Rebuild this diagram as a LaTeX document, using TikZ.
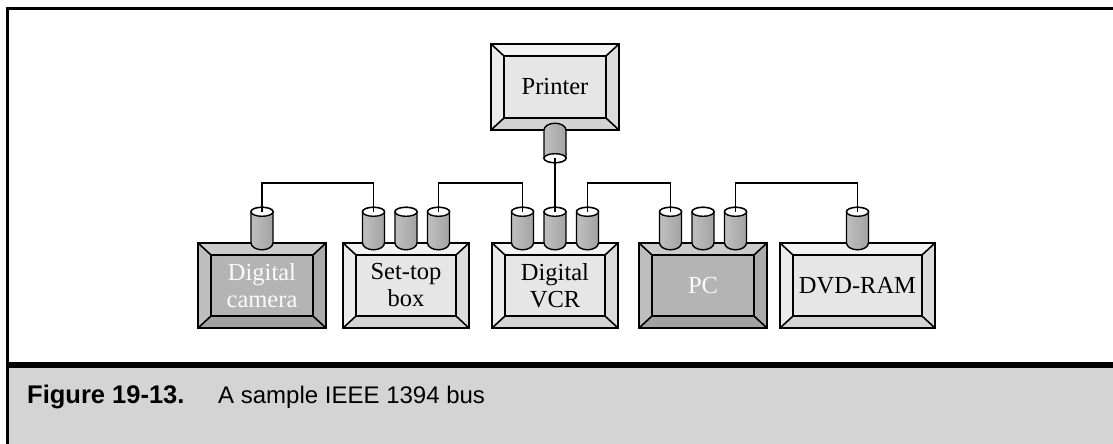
\documentclass[tikz,border=0pt]{standalone}
\usepackage{fontspec}
\newfontfamily\capfont{Liberation Sans}
\newfontfamily\devfont{Liberation Serif}
\usepackage{xcolor}
\usepackage{tikz}

\definecolor{lighttop}{HTML}{F3F3F3}
\definecolor{lightleft}{HTML}{EBEBEB}
\definecolor{lightright}{HTML}{DCDCDC}
\definecolor{lightbottom}{HTML}{D3D3D3}
\definecolor{lightface}{HTML}{E6E6E6}
\definecolor{darktop}{HTML}{CBCBCB}
\definecolor{darkleft}{HTML}{BEBEBE}
\definecolor{darkright}{HTML}{ABABAB}
\definecolor{darkbottom}{HTML}{A2A2A2}
\definecolor{darkface}{HTML}{B4B4B4}
\definecolor{capgray}{HTML}{D4D4D4}

% bevelled frame round a device node: #1 node, #2 colour set (light/dark)
\newcommand{\bevel}[2]{%
  \fill[#2top] (#1.north west) -- (#1.north east) -- ([shift={(-13,-12)}]#1.north east) -- ([shift={(13,-12)}]#1.north west) -- cycle;
  \fill[#2left] (#1.north west) -- ([shift={(13,-12)}]#1.north west) -- ([shift={(13,12)}]#1.south west) -- (#1.south west) -- cycle;
  \fill[#2right] (#1.north east) -- ([shift={(-13,-12)}]#1.north east) -- ([shift={(-13,12)}]#1.south east) -- (#1.south east) -- cycle;
  \fill[#2bottom] (#1.south west) -- ([shift={(13,12)}]#1.south west) -- ([shift={(-13,12)}]#1.south east) -- (#1.south east) -- cycle;
  \draw[rim] (#1.north west) -- ([shift={(13,-12)}]#1.north west);
  \draw[rim] (#1.north east) -- ([shift={(-13,-12)}]#1.north east);
  \draw[rim] (#1.south west) -- ([shift={(13,12)}]#1.south west);
  \draw[rim] (#1.south east) -- ([shift={(-13,12)}]#1.south east);
  \draw[rim] ([shift={(13,-12)}]#1.north west) rectangle ([shift={(-13,12)}]#1.south east);
  \draw[rim] (#1.north west) rectangle (#1.south east);
}

\tikzset{
  plug/.style={draw, line width=1.4pt},
  plugshade/.style={left color=gray!50, middle color=gray!4, right color=gray!72},
  port/.pic={
    \shadedraw[plug, plugshade] (-11,31) -- (-11,0) arc[start angle=180, end angle=360, x radius=11pt, y radius=7pt] -- (11,31) arc[start angle=0, end angle=180, x radius=11pt, y radius=4.5pt] -- cycle;
    \filldraw[plug, fill=white] (0,31) ellipse[x radius=11pt, y radius=4.5pt];
    \coordinate (-top) at (0,31);
  },
  portdown/.pic={
    \shadedraw[plug, plugshade] (-11,-28) -- (-11,0) arc[start angle=180, end angle=0, x radius=11pt, y radius=7pt] -- (11,-28) arc[start angle=360, end angle=180, x radius=11pt, y radius=4.5pt] -- cycle;
    \filldraw[plug, fill=white] (0,-28) ellipse[x radius=11pt, y radius=4.5pt];
    \coordinate (-end) at (0,-28);
  },
}

\begin{document}
\begin{tikzpicture}[x=1pt, y=1pt,
    device/.style={inner sep=0pt, align=center, minimum height=85pt, font=\devfont\fontsize{24.5pt}{27pt}\selectfont},
    light/.style={device, fill=lightface, text=black},
    dark/.style={device, fill=darkface, text=white!97!gray},
    rim/.style={line width=1.6pt, line join=miter},
    wire/.style={line width=1.6pt},
    capbold/.style={anchor=base west, inner sep=0pt, font=\capfont\bfseries\fontsize{25.5pt}{30pt}\selectfont},
    captext/.style={anchor=base west, inner sep=0pt, font=\capfont\fontsize{24pt}{28pt}\selectfont}]
  \useasboundingbox (0,0) rectangle (1113,-444);

  % frame and caption strip
  \fill[capgray] (7.5,-365) rectangle (1113,-444);
  \draw[line width=6pt] (7.5,-365) -- (1113,-365);
  \draw[line width=2.5pt] (1113,-8.5) -- (7.5,-8.5) -- (7.5,-444);
  \node[capbold] (fig) at (27,-403) {Figure 19-13.};
  \node[captext] (cap) at (218,-403) {A sample IEEE 1394 bus};

  % devices
  \node[light, minimum width=128pt, minimum height=86pt] (prn) at (555,-87) {Printer};
  \node[dark, minimum width=128pt] (cam) at (262,-285.5) {Digital\\camera};
  \node[light, minimum width=126pt] (stb) at (406,-285.5) {Set-top\\box};
  \node[light, minimum width=126pt] (vcr) at (555,-285.5) {Digital\\VCR};
  \node[dark, minimum width=128pt] (pc) at (703,-285.5) {PC};
  \node[light, minimum width=155pt] (dvd) at (857.5,-285.5) {DVD-RAM};
  \bevel{prn}{light}
  \bevel{cam}{dark}
  \bevel{stb}{light}
  \bevel{vcr}{light}
  \bevel{pc}{dark}
  \bevel{dvd}{light}

  % ports
  \pic (prn1) at (prn.south) {portdown};
  \pic (cam1) at (cam.north) {port};
  \pic (dvd1) at (dvd.north) {port};
  \foreach \dev in {stb,vcr,pc}
    \foreach \k/\dx in {1/-32.5,2/0,3/32.5}
      \pic (\dev\k) at ([xshift=\dx pt]\dev.north) {port};

  % bus cables
  \draw[wire] (cam1-top) -- ++(0,29) -| (stb1-top);
  \draw[wire] (stb3-top) -- ++(0,29) -| (vcr1-top);
  \draw[wire] (vcr3-top) -- ++(0,29) -| (pc1-top);
  \draw[wire] (pc3-top) -- ++(0,29) -| (dvd1-top);
  \draw[wire] (prn1-end) -- (vcr2-top);
\end{tikzpicture}
\end{document}
